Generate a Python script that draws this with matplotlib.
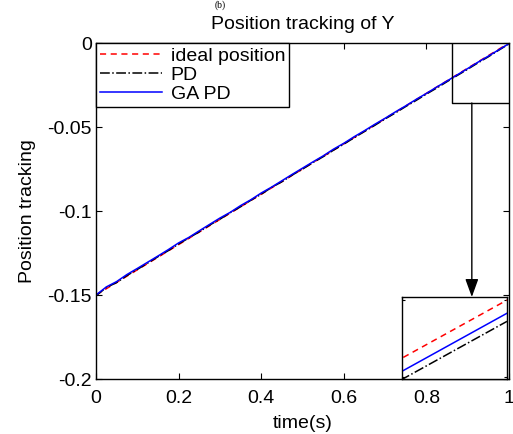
import numpy as np
import matplotlib
matplotlib.use("Agg")
import matplotlib.pyplot as plt

plt.rcParams["font.family"] = ["Liberation Sans", "DejaVu Sans"]
plt.rcParams["axes.unicode_minus"] = False

# ideal trajectory (straight line)
t_ideal = [0.0, 1.0]
y_ideal = [-0.15, 0.0]

# sampled responses
t = [0.0, 0.025, 0.05, 0.075, 0.1, 0.125, 0.15, 0.175, 0.2, 0.225,
     0.25, 0.275, 0.3, 0.325, 0.35, 0.375, 0.4, 0.425, 0.45, 0.475,
     0.5, 0.525, 0.55, 0.575, 0.6, 0.625, 0.65, 0.675, 0.7, 0.725,
     0.75, 0.775, 0.8, 0.825, 0.85, 0.875, 0.9, 0.925, 0.95, 0.975, 1.0]
y_ga = [-0.1500, -0.1452, -0.1420, -0.1378, -0.1342, -0.1305, -0.1268, -0.1230,
        -0.1190, -0.1157, -0.1118, -0.1080, -0.1042, -0.1008, -0.0968, -0.0933,
        -0.0893, -0.0858, -0.0820, -0.0782, -0.0745, -0.0708, -0.0672, -0.0632,
        -0.0597, -0.0558, -0.0522, -0.0484, -0.0448, -0.0410, -0.0374, -0.0336,
        -0.0300, -0.0262, -0.0226, -0.0189, -0.0152, -0.0114, -0.0078, -0.00409,
        -0.00034]
y_pd = [-0.1505, -0.1455, -0.1426, -0.1384, -0.1348, -0.1310, -0.1272, -0.1236,
        -0.1196, -0.1160, -0.1124, -0.1084, -0.1049, -0.1010, -0.0975, -0.0936,
        -0.0900, -0.0860, -0.0826, -0.0786, -0.0751, -0.0712, -0.0677, -0.0638,
        -0.0602, -0.0564, -0.0527, -0.0490, -0.0452, -0.0416, -0.0378, -0.0342,
        -0.0304, -0.0268, -0.0230, -0.0193, -0.0156, -0.0118, -0.0082, -0.0043,
        -0.00055]

xticks = [0, 0.2, 0.4, 0.6, 0.8, 1]
xticklabels = ["0", "0.2", "0.4", "0.6", "0.8", "1"]
yticks = [-0.2, -0.15, -0.1, -0.05, 0]
yticklabels = ["-0.2", "-0.15", "-0.1", "-0.05", "0"]

fs = 14

fig = plt.figure(figsize=(5.13, 4.34), dpi=100)
ax = fig.add_axes([96 / 513, 55 / 434, 413 / 513, 336 / 434])

ax.plot(t_ideal, y_ideal, "r--", lw=1.1, dashes=(4, 3), label="ideal position")
ax.plot(t, y_pd, "k-.", lw=1.1, label="PD")
ax.plot(t, y_ga, "b-", lw=1.1, label="GA PD")

ax.set_xlim(0, 1)
ax.set_ylim(-0.2, 0)
ax.set_xticks(xticks)
ax.set_xticklabels(xticklabels)
ax.set_yticks(yticks)
ax.set_yticklabels(yticklabels)
ax.tick_params(direction="in", top=True, right=True, labelsize=fs, length=4)
ax.tick_params(axis="x", pad=8)
ax.tick_params(axis="y", pad=3)
ax.set_xlabel("time(s)", fontsize=fs, labelpad=6)
ax.set_ylabel("Position tracking", fontsize=fs, labelpad=8)
ax.set_title("Position tracking of Y", fontsize=fs, pad=10)
for s in ax.spines.values():
    s.set_linewidth(1.0)

leg = ax.legend(loc="upper left", fontsize=fs, fancybox=False, framealpha=1,
                edgecolor="black", borderaxespad=0, handlelength=3.2,
                labelspacing=0.08, borderpad=0.2, handletextpad=0.45)
leg.get_frame().set_linewidth(1.0)

# zoom rectangle in main plot
zx0, zx1 = 0.862, 1.0
zy0, zy1 = -0.0357, 0.0
ax.plot([zx0, zx0, zx1], [zy1, zy0, zy0], color="black", lw=1.0)

# arrow towards inset
ax.annotate("", xy=(0.91, -0.1512), xytext=(0.91, zy0),
            arrowprops=dict(arrowstyle="-|>,head_length=1.1,head_width=0.4",
                            color="black", lw=1.0, shrinkA=0, shrinkB=0))

# inset
axin = fig.add_axes([402 / 513, 55 / 434, 105 / 513, 82 / 434])
axin.plot(t_ideal, y_ideal, "r--", lw=1.1, dashes=(4, 3))
axin.plot(t, y_pd, "k-.", lw=1.1)
axin.plot(t, y_ga, "b-", lw=1.1)
axin.set_xlim(0.99, 1.0)
axin.set_ylim(-0.00204, 0.00008)
axin.tick_params(direction="in", top=True, right=True, labelbottom=False,
                 labelleft=False, length=2)
for s in axin.spines.values():
    s.set_linewidth(1.0)

fig.text(0.43, 0.999, "(b)", fontsize=7, family="Liberation Serif", ha="center", va="top")

fig.savefig("out.png", dpi=100)
